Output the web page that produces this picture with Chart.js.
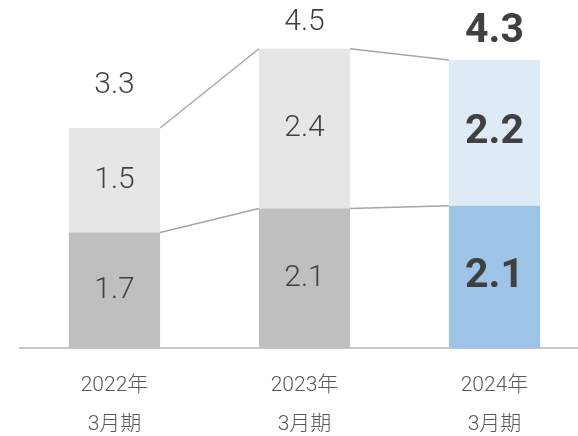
<!DOCTYPE html>
<html>
<head>
<meta charset="utf-8">
<script src="https://cdn.jsdelivr.net/npm/chart.js@4.4.1/dist/chart.umd.min.js"></script>
<style>
    html, body { margin: 0; padding: 0; background: #fff; overflow: hidden; }
    #wrap { width: 600px; height: 462px; }
</style>
</head>
<body>
<div id="wrap"><canvas id="chart"></canvas></div>
<script>
const categories = [['2022年', '3月期'], ['2023年', '3月期'], ['2024年', '3月期']];
// bar heights
const lowerValues = [1.74, 2.10, 2.14];
const upperValues = [1.57, 2.40, 2.19];
// printed labels
const lowerLabels = ['1.7', '2.1', '2.1'];
const upperLabels = ['1.5', '2.4', '2.2'];
const totalLabels = ['3.3', '4.5', '4.3'];

const lowerColors = ['#bfbfbf', '#bfbfbf', '#9dc3e6'];
const upperColors = ['#e6e6e6', '#e6e6e6', '#deebf7'];

const FONT = 'Roboto, "Noto Sans CJK JP", sans-serif';

// connector lines between bar tops + value labels
const barDecor = {
    id: 'barDecor',
    afterDatasetsDraw(chart) {
        const ctx = chart.ctx;
        const lower = chart.getDatasetMeta(0).data;
        const upper = chart.getDatasetMeta(1).data;

        ctx.save();
        ctx.strokeStyle = '#a6a6a6';
        ctx.lineWidth = 1.5;
        [lower, upper].forEach(bars => {
            for (let i = 0; i < bars.length - 1; i++) {
                const a = bars[i], b = bars[i + 1];
                ctx.beginPath();
                ctx.moveTo(a.x + a.width / 2, a.y);
                ctx.lineTo(b.x - b.width / 2, b.y);
                ctx.stroke();
            }
        });

        ctx.textAlign = 'center';
        ctx.textBaseline = 'middle';
        ctx.fillStyle = '#404040';
        const last = lower.length - 1;
        const setFont = (i) => {
            ctx.font = i === last ? 'bold 41px ' + FONT : '300 30px ' + FONT;
        };
        lower.forEach((bar, i) => {
            setFont(i);
            ctx.fillText(lowerLabels[i], bar.x, (bar.y + bar.base) / 2);
        });
        upper.forEach((bar, i) => {
            setFont(i);
            ctx.fillText(upperLabels[i], bar.x, (bar.y + bar.base) / 2);
        });
        const totalOffsets = [42, 26, 28];
        upper.forEach((bar, i) => {
            setFont(i);
            ctx.fillText(totalLabels[i], bar.x, bar.y - totalOffsets[i]);
        });
        ctx.restore();
    }
};

new Chart(document.getElementById('chart'), {
    type: 'bar',
    data: {
        labels: categories,
        datasets: [
            { data: lowerValues, backgroundColor: lowerColors },
            { data: upperValues, backgroundColor: upperColors }
        ]
    },
    options: {
        responsive: true,
        maintainAspectRatio: false,
        animation: false,
        layout: { padding: { left: 19.5, right: 10.5, top: 15.5, bottom: 0 } },
        datasets: { bar: { categoryPercentage: 1, barPercentage: 0.48 } },
        plugins: { legend: { display: false }, tooltip: { enabled: false } },
        scales: {
            x: {
                stacked: true,
                grid: { display: false, drawTicks: false },
                border: { color: '#c8c8c8', width: 2 },
                ticks: {
                    color: '#595959',
                    padding: 18,
                    font: { family: FONT, size: 21, weight: 300, lineHeight: 1.85 }
                }
            },
            y: {
                stacked: true,
                display: false,
                min: 0,
                max: 5
            }
        }
    },
    plugins: [barDecor]
});
</script>
</body>
</html>
